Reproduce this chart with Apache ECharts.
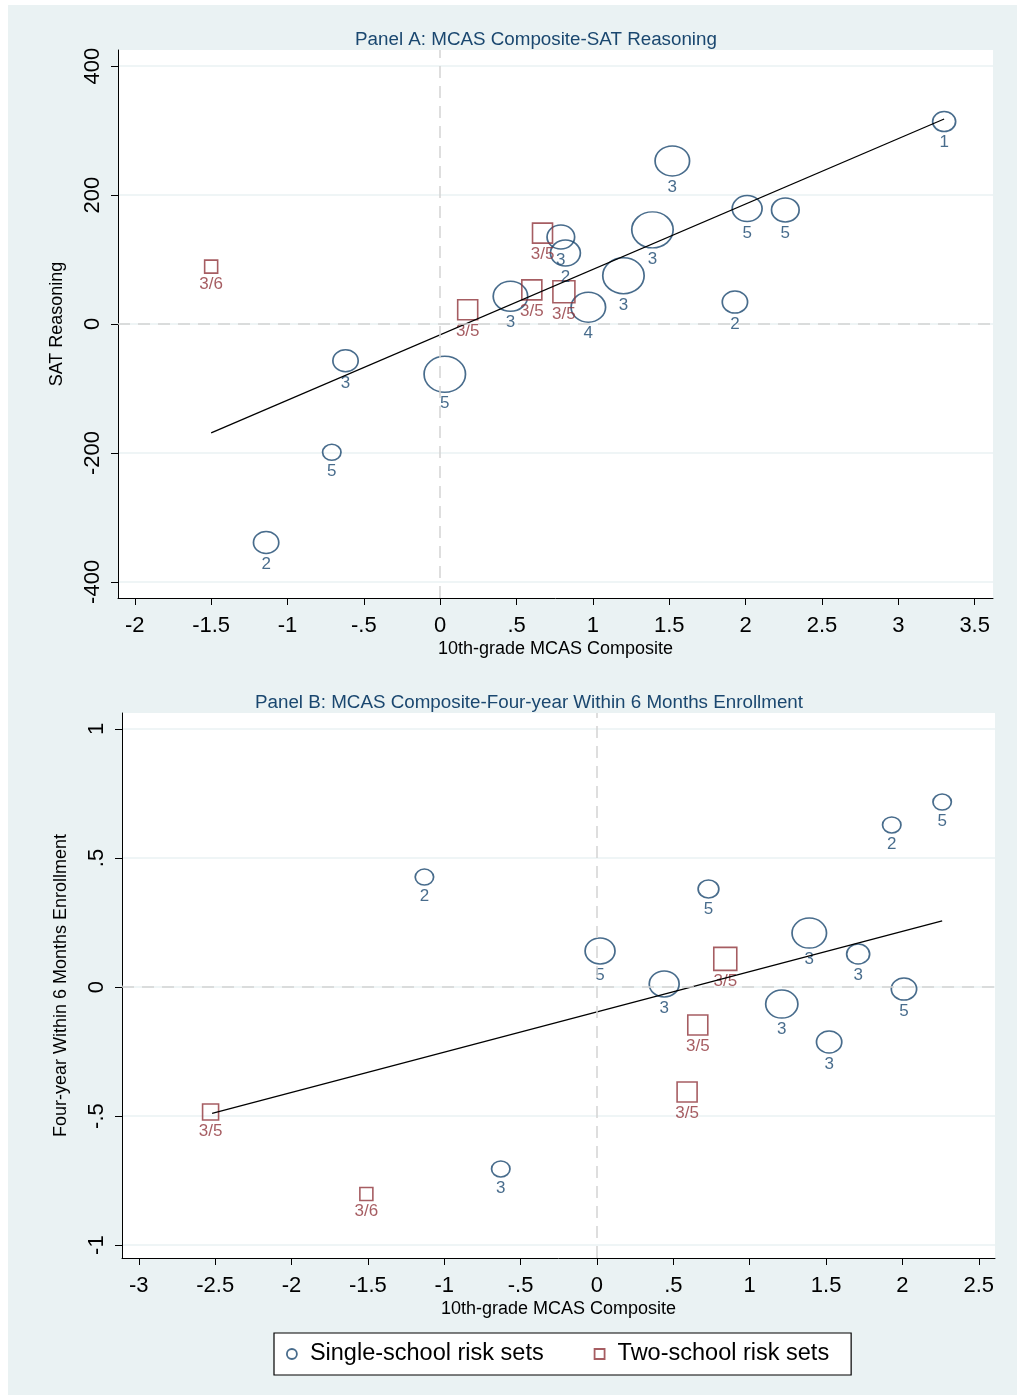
<!DOCTYPE html>
<html>
<head>
<meta charset="utf-8">
<script src="https://cdn.jsdelivr.net/npm/echarts@6.0.0/dist/echarts.min.js"></script>
<style>
  body { margin: 0; background: #fff; }
  #chart { position: absolute; left: 8px; top: 5px; width: 1009px; height: 1390px; }
</style>
</head>
<body>
<div id="chart"></div>
<script>
// Panel A: single-school (circles)
var aSingleX = [3.30, 1.52, 2.01, 2.26, 1.93, 1.39, 1.20, 0.79, 0.82, 0.97, 0.46, 0.03, -0.62, -0.71, -1.14];
var aSingleY = [314, 253, 179, 177, 34, 146, 75, 135, 110, 26, 43, -78, -57, -199, -339];
var aSingleR = [10, 15, 13, 12, 11, 18, 18, 12, 13, 15, 15, 18, 11, 8, 11];
var aSingleLab = ['1', '3', '5', '5', '2', '3', '3', '3', '2', '4', '3', '5', '3', '5', '2'];
// Panel A: two-school (squares)
var aTwoX = [-1.50, 0.18, 0.60, 0.81, 0.67];
var aTwoY = [89, 22, 53, 50, 141];
var aTwoS = [13, 20, 20, 22, 20];
var aTwoLab = ['3/6', '3/5', '3/5', '3/5', '3/5'];
var aFit = [[-1.5, -169], [3.3, 318]];

// Panel B
var bSingleX = [2.26, 1.93, -1.13, 0.73, 0.02, 1.39, 1.71, 0.44, 2.01, 1.21, 1.52, -0.63];
var bSingleY = [0.717, 0.628, 0.426, 0.380, 0.140, 0.209, 0.128, 0.012, -0.008, -0.066, -0.213, -0.705];
var bSingleR = [8, 8, 8, 9, 13, 15, 10, 13, 11, 14, 11, 8];
var bSingleLab = ['5', '2', '2', '5', '5', '3', '3', '3', '5', '3', '3', '3'];
var bTwoX = [0.84, 0.66, 0.59, -2.53, -1.51];
var bTwoY = [0.109, -0.147, -0.407, -0.484, -0.802];
var bTwoS = [23, 20, 20, 16, 13];
var bTwoLab = ['3/5', '3/5', '3/5', '3/5', '3/6'];
var bFit = [[-2.52, -0.49], [2.26, 0.256]];

var xTicksA = [-2, -1.5, -1, -0.5, 0, 0.5, 1, 1.5, 2, 2.5, 3, 3.5];
var yTicksA = [-400, -200, 0, 200, 400];
var xTicksB = [-3, -2.5, -2, -1.5, -1, -0.5, 0, 0.5, 1, 1.5, 2, 2.5];
var yTicksB = [-1, -0.5, 0, 0.5, 1];

var navy = '#1a476f', red = '#90353b';
var fmt = function (v) { return String(+v.toFixed(2)).replace(/^(-?)0\./, '$1.'); };

function circles(xs, ys, rs, labs) {
  return xs.map(function (x, i) {
    return { value: [x, ys[i]], symbolSize: [rs[i] * 2.3, rs[i] * 2], label: { formatter: labs[i] } };
  });
}
function squares(xs, ys, ss, labs) {
  return xs.map(function (x, i) {
    return { value: [x, ys[i]], symbolSize: ss[i], label: { formatter: labs[i] } };
  });
}

function xAxis(idx, min, max, ticks, name) {
  return {
    gridIndex: idx, type: 'value', min: min, max: max, name: name,
    nameLocation: 'middle', nameGap: 42, nameTextStyle: { fontSize: 18, color: '#000', fontFamily: 'Liberation Sans' },
    axisLine: { show: true, onZero: false, lineStyle: { color: '#000' } },
    axisTick: { show: true, customValues: ticks, length: 7, lineStyle: { color: '#000' } },
    axisLabel: { customValues: ticks, formatter: fmt, fontSize: 22, color: '#000', margin: 17, fontFamily: 'Liberation Sans' },
    splitLine: { show: false }
  };
}
function yAxis(idx, min, max, ticks, name) {
  return {
    gridIndex: idx, type: 'value', min: min, max: max, name: name,
    nameLocation: 'middle', nameGap: 52, nameTextStyle: { fontSize: 18, color: '#000', fontFamily: 'Liberation Sans' },
    axisLine: { show: true, onZero: false, lineStyle: { color: '#000' } },
    axisTick: { show: true, customValues: ticks, length: 7, lineStyle: { color: '#000' } },
    axisLabel: { customValues: ticks, formatter: fmt, rotate: 90, fontSize: 22, color: '#000', margin: 14, fontFamily: 'Liberation Sans' },
    splitLine: { show: true, customValues: ticks, lineStyle: { color: '#eaf2f3', width: 1.5 } }
  };
}

function zeroLines() {
  return {
    silent: true, symbol: 'none', label: { show: false },
    lineStyle: { color: '#d4d4d4', type: [12, 8], width: 1.5 },
    data: [{ xAxis: 0 }, { yAxis: 0 }]
  };
}

function scatterSeries(idx, name, symbol, color, data, withZero) {
  var s = {
    name: name, type: 'scatter', xAxisIndex: idx, yAxisIndex: idx, symbol: symbol,
    itemStyle: { color: 'rgba(0,0,0,0)', borderColor: color, borderWidth: 1.6 },
    label: { show: true, position: 'bottom', distance: 2, color: color, fontSize: 17, fontFamily: 'Liberation Sans' },
    data: data, z: 3
  };
  if (withZero) s.markLine = zeroLines();
  return s;
}
function fitSeries(idx, pts) {
  return {
    type: 'line', xAxisIndex: idx, yAxisIndex: idx, data: pts, symbol: 'none',
    lineStyle: { color: '#000', width: 1.3 }, silent: true, z: 4
  };
}

var chart = echarts.init(document.getElementById('chart'));
chart.setOption({
  backgroundColor: '#eaf2f3',
  animation: false,
  title: [
    { text: 'Panel A: MCAS Composite-SAT Reasoning', left: 523, top: 20, textAlign: 'center',
      textStyle: { fontSize: 18.8, fontWeight: 'normal', color: navy, fontFamily: 'Liberation Sans' } },
    { text: 'Panel B: MCAS Composite-Four-year Within 6 Months Enrollment', left: 516, top: 683, textAlign: 'center',
      textStyle: { fontSize: 18.8, fontWeight: 'normal', color: navy, fontFamily: 'Liberation Sans' } }
  ],
  grid: [
    { left: 110, top: 45, width: 875, height: 548, show: true, backgroundColor: '#fff', borderWidth: 0 },
    { left: 114, top: 708, width: 873, height: 545, show: true, backgroundColor: '#fff', borderWidth: 0 }
  ],
  legend: {
    left: 266, top: 1328, itemGap: 50, padding: [9, 22, 9, 12],
    backgroundColor: '#fff', borderColor: '#000', borderWidth: 1.2,
    itemWidth: 10, itemHeight: 10,
    textStyle: { fontSize: 23.5, color: '#000', fontFamily: 'Liberation Sans', padding: [0, 0, 0, 8] },
    data: [
      { name: 'Single-school risk sets', icon: 'circle', itemStyle: { color: '#fff', borderColor: navy, borderWidth: 1.8 } },
      { name: 'Two-school risk sets', icon: 'rect', itemStyle: { color: '#fff', borderColor: red, borderWidth: 1.8 } }
    ]
  },
  xAxis: [
    xAxis(0, -2.11, 3.62, xTicksA, '10th-grade MCAS Composite'),
    xAxis(1, -3.11, 2.606, xTicksB, '10th-grade MCAS Composite')
  ],
  yAxis: [
    yAxis(0, -425, 425, yTicksA, 'SAT Reasoning'),
    yAxis(1, -1.05, 1.062, yTicksB, 'Four-year Within 6 Months Enrollment')
  ],
  series: [
    scatterSeries(0, 'Single-school risk sets', 'circle', navy, circles(aSingleX, aSingleY, aSingleR, aSingleLab), true),
    scatterSeries(0, 'Two-school risk sets', 'rect', red, squares(aTwoX, aTwoY, aTwoS, aTwoLab), false),
    fitSeries(0, aFit),
    scatterSeries(1, 'Single-school risk sets', 'circle', navy, circles(bSingleX, bSingleY, bSingleR, bSingleLab), true),
    scatterSeries(1, 'Two-school risk sets', 'rect', red, squares(bTwoX, bTwoY, bTwoS, bTwoLab), false),
    fitSeries(1, bFit)
  ]
});
</script>
</body>
</html>
